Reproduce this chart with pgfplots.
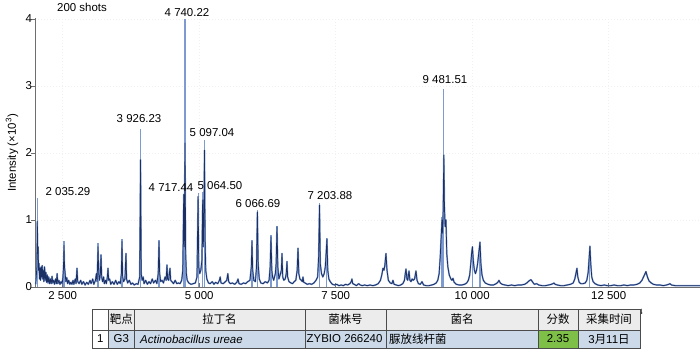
\documentclass[border=0pt]{standalone}
\usepackage{pgfplots}
\pgfplotsset{compat=1.18}
\usepackage{pgfplotstable}
\usepackage{fontspec}
\setmainfont{Liberation Sans}
\newfontfamily\cjk{Noto Sans CJK SC}
\definecolor{specdark}{HTML}{1C2F63}
\definecolor{speclight}{HTML}{7D9BD0}
\definecolor{hdrgray}{HTML}{ECECEC}
\definecolor{rowblue}{HTML}{CBD9E8}
\definecolor{scoregreen}{HTML}{7DBF47}
\definecolor{axisgray}{HTML}{6E6E6E}

\pgfplotstableread{
m y
2005 0.04
2028 0.30
2035 0.98
2042 0.50
2050 0.60
2058 0.25
2066 0.35
2075 0.12
2085 0.28
2095 0.10
2105 0.30
2115 0.15
2125 0.32
2135 0.12
2145 0.25
2155 0.08
2168 0.30
2180 0.10
2192 0.22
2205 0.07
2218 0.18
2230 0.06
2245 0.15
2260 0.05
2275 0.12
2290 0.05
2305 0.16
2318 0.06
2335 0.10
2350 0.04
2370 0.12
2385 0.05
2398 0.20
2410 0.05
2430 0.10
2450 0.04
2470 0.08
2490 0.05
2505 0.15
2515 0.30
2524 0.62
2533 0.30
2545 0.20
2558 0.08
2575 0.14
2590 0.05
2610 0.10
2630 0.04
2650 0.07
2670 0.04
2690 0.10
2705 0.04
2730 0.12
2745 0.05
2762 0.28
2775 0.08
2800 0.05
2830 0.10
2850 0.04
2880 0.08
2910 0.03
2940 0.07
2970 0.04
3000 0.10
3020 0.05
3050 0.12
3070 0.04
3100 0.10
3118 0.20
3130 0.08
3147 0.60
3160 0.20
3175 0.10
3190 0.20
3202 0.48
3214 0.15
3230 0.08
3250 0.15
3262 0.05
3285 0.10
3300 0.05
3318 0.15
3330 0.28
3342 0.10
3360 0.12
3380 0.04
3410 0.08
3440 0.04
3470 0.10
3500 0.04
3530 0.08
3555 0.05
3575 0.20
3586 0.68
3598 0.15
3615 0.08
3640 0.12
3659 0.50
3670 0.12
3690 0.06
3720 0.10
3750 0.04
3780 0.06
3810 0.03
3850 0.05
3880 0.04
3910 0.15
3926 1.90
3938 0.20
3955 0.10
3975 0.15
3990 0.05
4020 0.10
4050 0.04
4080 0.08
4110 0.05
4140 0.12
4165 0.06
4200 0.10
4225 0.05
4250 0.20
4264 0.68
4276 0.20
4295 0.08
4320 0.10
4345 0.06
4375 0.15
4395 0.10
4410 0.33
4422 0.12
4440 0.10
4465 0.28
4478 0.10
4500 0.08
4530 0.05
4560 0.10
4590 0.05
4620 0.06
4650 0.05
4680 0.10
4700 0.25
4717 1.38
4728 0.60
4740 2.15
4752 0.50
4765 0.20
4780 0.10
4810 0.06
4850 0.04
4890 0.05
4930 0.06
4960 0.15
4980 1.35
4992 0.30
5010 0.20
5030 0.25
5050 0.40
5064 1.30
5075 0.60
5088 1.20
5097 2.04
5108 0.70
5120 0.25
5140 0.12
5170 0.06
5200 0.05
5240 0.08
5270 0.04
5300 0.07
5340 0.05
5370 0.10
5385 0.15
5400 0.06
5440 0.05
5480 0.08
5505 0.10
5525 0.20
5540 0.08
5570 0.05
5610 0.06
5650 0.04
5690 0.07
5711 0.12
5730 0.05
5770 0.04
5810 0.06
5850 0.05
5890 0.08
5930 0.10
5955 0.30
5967 0.68
5980 0.25
6000 0.10
6030 0.08
6050 0.30
6066 1.12
6080 0.35
6100 0.12
6130 0.06
6170 0.05
6210 0.08
6250 0.06
6280 0.10
6300 0.30
6315 0.75
6330 0.25
6345 0.15
6365 0.10
6395 0.20
6410 0.35
6425 0.90
6440 0.30
6460 0.12
6490 0.20
6505 0.25
6517 0.50
6530 0.15
6550 0.10
6575 0.12
6595 0.20
6608 0.38
6620 0.15
6645 0.08
6680 0.06
6710 0.05
6740 0.08
6770 0.10
6795 0.25
6810 0.58
6825 0.20
6845 0.12
6870 0.10
6890 0.08
6901 0.15
6915 0.07
6940 0.06
6980 0.04
7020 0.05
7060 0.04
7100 0.06
7140 0.10
7170 0.15
7188 0.45
7204 1.22
7218 0.35
7240 0.20
7265 0.15
7290 0.20
7310 0.30
7325 0.50
7340 0.72
7355 0.25
7375 0.12
7400 0.08
7440 0.04
7480 0.03
7520 0.04
7560 0.02
7600 0.03
7640 0.02
7680 0.04
7720 0.03
7760 0.05
7785 0.08
7798 0.12
7812 0.05
7840 0.04
7880 0.02
7920 0.05
7950 0.03
7990 0.02
8030 0.03
8080 0.02
8130 0.03
8180 0.02
8230 0.03
8280 0.05
8320 0.10
8345 0.18
8366 0.28
8385 0.25
8400 0.32
8421 0.50
8440 0.25
8465 0.10
8500 0.06
8530 0.05
8549 0.10
8570 0.04
8610 0.03
8650 0.02
8690 0.03
8730 0.05
8760 0.10
8775 0.20
8788 0.27
8805 0.12
8820 0.10
8843 0.24
8860 0.10
8880 0.08
8900 0.12
8920 0.10
8945 0.12
8971 0.24
8990 0.10
9015 0.05
9050 0.04
9081 0.08
9110 0.03
9160 0.02
9210 0.02
9260 0.03
9300 0.04
9340 0.06
9370 0.10
9395 0.20
9415 0.45
9430 0.70
9447 1.00
9460 0.80
9470 1.20
9481 1.97
9492 1.20
9505 0.90
9520 1.00
9535 0.50
9555 0.30
9580 0.18
9610 0.12
9630 0.10
9648 0.13
9670 0.07
9710 0.04
9760 0.03
9810 0.03
9860 0.04
9900 0.06
9930 0.10
9955 0.18
9975 0.35
9990 0.50
10005 0.60
10020 0.40
10040 0.25
10060 0.20
10080 0.25
10100 0.35
10120 0.50
10143 0.67
10160 0.35
10180 0.18
10205 0.10
10240 0.06
10290 0.04
10340 0.03
10390 0.03
10440 0.05
10470 0.07
10491 0.10
10515 0.06
10550 0.04
10600 0.03
10660 0.02
10720 0.03
10780 0.02
10840 0.03
10900 0.03
10960 0.04
11000 0.06
11040 0.09
11077 0.11
11110 0.07
11140 0.04
11180 0.05
11220 0.03
11280 0.02
11340 0.02
11400 0.03
11450 0.04
11480 0.05
11498 0.06
11520 0.04
11560 0.03
11620 0.02
11680 0.02
11740 0.03
11800 0.04
11850 0.06
11880 0.12
11905 0.22
11919 0.28
11935 0.15
11960 0.07
11990 0.05
12030 0.05
12070 0.06
12100 0.10
12125 0.22
12140 0.40
12157 0.61
12172 0.35
12190 0.15
12215 0.08
12250 0.05
12300 0.03
12360 0.02
12420 0.03
12480 0.02
12540 0.02
12600 0.03
12660 0.02
12720 0.02
12780 0.03
12840 0.02
12900 0.03
12960 0.03
13020 0.04
13070 0.06
13110 0.10
13150 0.17
13183 0.23
13210 0.15
13240 0.09
13280 0.06
13320 0.04
13380 0.03
13440 0.03
13500 0.02
13560 0.03
13600 0.04
13623 0.05
13650 0.03
13720 0.02
13800 0.02
13880 0.02
13960 0.02
14040 0.02
14120 0.02
14170 0.02
}\spec

\begin{document}
\begin{tikzpicture}[font=\fontsize{11.5}{13}\selectfont]
\useasboundingbox (0,0) rectangle (700bp,349bp);
\begin{axis}[
  at={(35.4bp,62bp)}, anchor=south west,
  x=0.0546bp, y=67bp,
  xmin=2000, xmax=14170, ymin=0, ymax=4.01,
  clip=false,
  axis x line=bottom, axis y line=left,
  axis line style={-, axisgray, line width=0.8bp},
  xtick={2500,5000,7500,10000,12500},
  xticklabels={2 500,5 000,7 500,10 000,12 500},
  ytick={0,1,2,3,4},
  tick align=inside,
  major tick length=4bp,
  tick style={axisgray, line width=0.6bp},
  y tick style={xshift=-4bp},
  ymajorgrids, xmajorgrids,
  grid style={black!6, dash pattern=on 1bp off 2bp, line width=0.4bp},
  /pgf/number format/assume math mode=true,
  ticklabel style={font=\fontsize{11.5}{13}\selectfont},
  xticklabel style={yshift=-1bp},
]
\addplot[speclight, line width=1.1bp, ycomb, no markers] coordinates {
 (2035,1.33) (2524,0.69) (3147,0.66) (3586,0.72) (3926,2.36) (4264,0.70)
 (4717,1.38) (4740,4.0) (4980,1.40) (5064,1.42) (5097,2.2) (5967,0.70)
 (6066,1.15) (6315,0.78) (6425,0.91) (7204,1.25) (7340,0.73) (9447,1.04)
 (9481,2.95) (10005,0.61) (10143,0.67) (12157,0.61)
};
\addplot[speclight, line width=1.6bp, line join=round, no markers] table[x=m,y=y]{\spec};
\addplot[specdark, line width=0.75bp, line join=round, no markers] table[x=m,y=y]{\spec};

\node at (axis cs:2854,4.18) {200 shots};
\node at (axis cs:4777,4.10) {4 740.22};
\node at (axis cs:3898,2.51) {3 926.23};
\node at (axis cs:5235,2.31) {5 097.04};
\node at (axis cs:4484,1.48) {4 717.44};
\node at (axis cs:5381,1.51) {5 064.50};
\node at (axis cs:6077,1.24) {6 066.69};
\node at (axis cs:7396,1.36) {7 203.88};
\node at (axis cs:9502,3.09) {9 481.51};
\node at (axis cs:2597,1.42) {2 035.29};
\end{axis}

\node[rotate=90] at (12bp,196bp) {Intensity (×10\textsuperscript{3})};

% table
\fill[white] (92bp,1bp) rectangle (108.5bp,40bp);
\fill[hdrgray] (108.5bp,19bp) rectangle (640bp,40bp);
\fill[rowblue] (108.5bp,1bp) rectangle (640bp,19bp);
\fill[scoregreen] (538bp,1bp) rectangle (578bp,19bp);
\begin{scope}[draw=black!70, line width=0.8bp]
\draw (92bp,1bp) rectangle (640bp,40bp);
\draw (92bp,19bp) -- (640bp,19bp);
\foreach \x in {108.5,134,305,386,538,578} \draw (\x bp,1bp) -- (\x bp,40bp);
\end{scope}
\begin{scope}[every node/.style={inner sep=0pt}]
\node at (121.25bp,29.5bp) {\cjk 靶点};
\node at (219.5bp,29.5bp) {\cjk 拉丁名};
\node at (345.5bp,29.5bp) {\cjk 菌株号};
\node at (462bp,29.5bp) {\cjk 菌名};
\node at (558bp,29.5bp) {\cjk 分数};
\node at (609bp,29.5bp) {\cjk 采集时间};
\node at (100.25bp,10bp) {1};
\node at (121.25bp,10bp) {G3};
\node[anchor=west] at (140bp,10bp) {\itshape Actinobacillus ureae};
\node[anchor=west] at (306.5bp,10bp) {ZYBIO 266240};
\node[anchor=west] at (389bp,10bp) {\cjk 脲放线杆菌};
\node at (558bp,10bp) {2.35};
\node at (609bp,10bp) {3\cjk 月\rmfamily 11\cjk 日};
\end{scope}
\end{tikzpicture}
\end{document}
